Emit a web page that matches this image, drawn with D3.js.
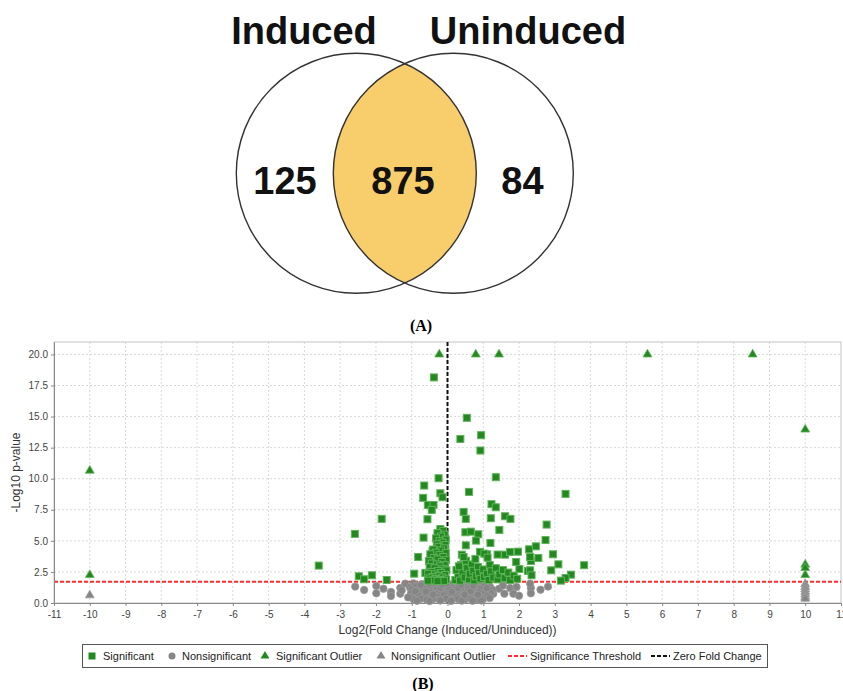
<!DOCTYPE html>
<html><head><meta charset="utf-8">
<script src="https://cdn.jsdelivr.net/npm/d3@7"></script>
<style>html,body{margin:0;padding:0;background:#fff;}svg{display:block;}</style>
</head><body>
<svg id="c" width="843" height="691"></svg>
<script>
// ---------- Data ----------
const vennSets = ["Induced", "Uninduced"];
const vennCounts = [125, 875, 84]; // only Induced, shared, only Uninduced

const xTicks = [-11,-10,-9,-8,-7,-6,-5,-4,-3,-2,-1,0,1,2,3,4,5,6,7,8,9,10,11];
const yTicks = [0, 2.5, 5, 7.5, 10, 12.5, 15, 17.5, 20];
const threshold = 1.7;
const zeroFold = 0;

const significant = [
 [-0.38,18.15],[0.54,14.9],[0.94,13.5],[0.36,13.2],[0.92,12.27],[1.35,10.12],[-0.25,10.04],[-0.65,9.45],
 [0.60,8.94],[-0.20,8.83],[-0.14,8.51],[-0.68,8.46],[3.30,8.78],[-0.55,7.89],[-0.39,7.89],[-0.44,7.49],
 [1.23,7.95],[1.35,7.70],[0.45,7.33],[-1.84,6.77],[-0.56,6.74],[0.51,6.77],[1.21,6.82],[1.61,6.98],
 [1.76,6.77],[2.77,6.31],[-2.59,5.56],[-0.15,5.74],[0.50,5.69],[0.65,5.74],[0.86,5.53],[1.45,5.88],
 [-0.67,5.26],[-0.14,5.26],[0.80,5.02],[1.20,4.83],[0.51,4.64],[2.74,5.07],[2.47,4.56],[2.28,4.32],
 [-0.42,4.16],[0.40,3.89],[0.91,4.11],[1.10,3.92],[1.61,3.89],[1.97,4.13],[2.33,3.38],[2.54,3.62],
 [2.95,3.92],[-0.82,3.70],[-3.60,3.01],[3.10,3.11],[2.90,2.63],[2.25,2.58],[2.01,2.74],[3.45,2.28],
 [3.30,2.01],[3.17,1.80],[-2.48,2.15],[-2.33,1.91],[-2.11,2.23],[-1.70,1.85],[-0.93,2.36],[-0.62,2.42],
 [3.82,3.04],[1.75,4.11],[1.03,3.97],[1.12,3.65],[2.31,3.70],[2.31,2.63],[2.35,2.23],
 // dense column left of zero
 [-0.20,5.95],[-0.12,5.80],[-0.28,5.62],[-0.08,5.50],[-0.18,5.35],[-0.32,5.20],[-0.05,5.10],[-0.22,4.98],
 [-0.14,4.85],[-0.30,4.72],[-0.06,4.66],[-0.25,4.52],[-0.10,4.40],[-0.40,4.30],[-0.18,4.22],[-0.33,4.05],
 [-0.05,4.02],[-0.48,3.92],[-0.22,3.85],[-0.12,3.70],[-0.38,3.62],[-0.28,3.50],[-0.04,3.45],[-0.52,3.38],
 [-0.16,3.30],[-0.44,3.18],[-0.30,3.10],[-0.08,3.05],[-0.22,2.95],[-0.50,2.88],[-0.36,2.80],[-0.12,2.72],
 [-0.03,2.62],[-0.27,2.58],[-0.45,2.50],[-0.18,2.42],[-0.54,2.35],[-0.35,2.30],[-0.07,2.25],[-0.25,2.18],
 [-0.42,2.10],[-0.14,2.05],[-0.50,1.98],[-0.32,1.94],[-0.04,1.90],[-0.20,1.86],[-0.40,1.82],[-0.10,1.78],
 [-0.28,1.76],[-0.55,1.80],
 // dense mass right of zero
 [0.22,1.85],[0.30,2.20],[0.25,2.65],[0.35,1.80],[0.42,2.45],[0.38,3.05],[0.48,2.05],[0.55,2.80],
 [0.52,3.40],[0.60,1.90],[0.62,2.35],[0.68,3.10],[0.72,2.60],[0.75,1.82],[0.80,2.15],[0.78,3.55],
 [0.85,2.90],[0.88,2.40],[0.92,1.95],[1.00,2.70],[1.02,2.10],[1.10,2.35],
 [1.15,1.85],[1.18,3.05],[1.22,2.55],[1.28,2.05],[1.35,2.80],[1.40,1.90],[1.45,2.30],
 [1.55,2.65],[1.60,2.00],[1.70,2.45],[1.75,1.85],[1.85,2.20],
 [1.92,3.30],[1.95,1.95],[0.45,3.70],[0.32,2.95],[1.40,3.90]
];

const nonsignificant = [
 [-2.58,1.32],[-2.33,1.05],[-1.99,1.37],[-1.99,0.78],[-1.79,1.15],[-1.58,0.89],[-1.58,0.56],[-1.32,1.21],
 [-1.32,0.75],[-1.18,1.56],[-1.28,1.02],[1.75,1.21],[1.84,0.75],[1.93,1.29],[2.00,0.59],[2.33,1.21],
 [2.33,0.78],[2.60,1.07],[2.81,1.32],[1.59,0.75],[1.44,1.15],[1.28,0.75],[2.31,1.56],[1.55,1.40],
 [-0.95,1.58],[-0.72,1.52],[-0.55,1.60],[-0.38,1.50],[-0.22,1.62],[-0.05,1.55],[0.10,1.48],[0.28,1.60],
 [0.45,1.54],[0.62,1.63],[0.80,1.50],[0.98,1.58],[1.15,1.45],
 [-1.05,1.25],[-0.88,1.35],[-0.70,1.28],[-0.52,1.33],[-0.35,1.22],[-0.18,1.38],[0.00,1.30],[0.15,1.24],
 [0.32,1.36],[0.50,1.27],[0.66,1.32],[0.84,1.22],[1.02,1.34],[1.20,1.26],
 [-1.00,1.08],[-0.82,1.00],[-0.65,1.12],[-0.48,1.02],[-0.30,1.10],[-0.12,0.98],[0.06,1.06],[0.22,1.12],
 [0.40,0.99],[0.58,1.09],[0.75,1.02],[0.92,1.12],[1.10,1.00],[1.26,1.05],
 [-1.02,0.78],[-0.85,0.84],[-0.68,0.74],[-0.50,0.86],[-0.33,0.76],[-0.15,0.82],[0.02,0.72],[0.18,0.85],
 [0.36,0.78],[0.54,0.83],[0.70,0.74],[0.88,0.86],[1.05,0.79],[1.22,0.82],
 [-0.98,0.52],[-0.80,0.60],[-0.62,0.50],[-0.45,0.58],[-0.28,0.48],[-0.10,0.62],[0.08,0.54],[0.25,0.50],
 [0.42,0.60],[0.60,0.52],[0.78,0.58],[0.95,0.48],[1.12,0.56],
 [-0.95,0.30],[-0.75,0.35],[-0.58,0.26],[-0.40,0.33],[-0.22,0.28],[-0.05,0.36],[0.12,0.25],[0.30,0.32],
 [0.48,0.27],[0.65,0.34],[0.82,0.28],[1.00,0.32],
 [-0.85,0.18],[-0.50,0.16],[-0.20,0.20],[0.10,0.17],[0.40,0.19],[0.70,0.18],[0.95,0.20],
 [-0.90,0.95],[-0.60,0.92],[-0.40,0.68],[-0.20,1.20],[0.12,0.90],[0.30,1.20],[0.48,0.66],[0.65,0.95],
 [0.85,0.66],[1.10,1.20],[-0.75,1.45],[-0.15,1.48],[0.38,1.45],[0.72,1.40],[-1.10,0.45],[1.18,0.40]
];

const sigOutliers = [
 [-0.23,20],[0.79,20],[1.44,20],[5.59,20],[8.53,20],
 [-10,10.65],[-10,2.25],[10,13.96],[10,3.09],[10,2.82],[10,2.25]
];
const nonsigOutliers = [
 [-10,0.62],[10,1.52],[10,1.30],[10,1.10],[10,0.90],[10,0.70],[10,0.50],[10,0.35]
];

const legendItems = ["Significant","Nonsignificant","Significant Outlier","Nonsignificant Outlier","Significance Threshold","Zero Fold Change"];

// ---------- Drawing ----------
const svg = d3.select("#c");
const sansFont = "'Liberation Sans', Arial, sans-serif";
const serifFont = "'Liberation Serif', 'DejaVu Serif', serif";

// ===== Panel A: Venn =====
const r = 120, cy = 173.3;
const cxL = 356.3, cxR = 453.3;
const defs = svg.append("defs");
defs.append("clipPath").attr("id","clipL").append("circle").attr("cx",cxL).attr("cy",cy).attr("r",r);
svg.append("circle").attr("cx",cxR).attr("cy",cy).attr("r",r)
  .attr("clip-path","url(#clipL)").attr("fill","#f8cd6b");
[cxL,cxR].forEach(cx=>{
  svg.append("circle").attr("cx",cx).attr("cy",cy).attr("r",r)
    .attr("fill","none").attr("stroke","#333").attr("stroke-width",1.4);
});
svg.append("text").attr("x",304).attr("y",43.5).attr("text-anchor","middle")
  .attr("font-family",sansFont).attr("font-weight","bold").attr("font-size",38).attr("fill","#111").text(vennSets[0]);
svg.append("text").attr("x",528).attr("y",43.5).attr("text-anchor","middle")
  .attr("font-family",sansFont).attr("font-weight","bold").attr("font-size",38).attr("fill","#111").text(vennSets[1]);
const numX = [285, 403, 522.5];
vennCounts.forEach((v,i)=>{
  svg.append("text").attr("x",numX[i]).attr("y",193.5).attr("text-anchor","middle")
    .attr("font-family",sansFont).attr("font-weight","bold").attr("font-size",38).attr("fill","#111").text(v);
});
svg.append("text").attr("x",421).attr("y",331).attr("text-anchor","middle")
  .attr("font-family",serifFont).attr("font-weight","bold").attr("font-size",16).attr("fill","#000").text("(A)");

// ===== Panel B: Volcano =====
const L = 54, R = 841, T = 342, B = 603;
const x = d3.scaleLinear().domain([-11,11]).range([L,R]);
const y = d3.scaleLinear().domain([0,21]).range([B,T]);

// gridlines
const g = svg.append("g");
g.selectAll("line.vg").data(xTicks.filter(d=>d>-11&&d<11)).enter().append("line")
  .attr("x1",d=>x(d)).attr("x2",d=>x(d)).attr("y1",T).attr("y2",B)
  .attr("stroke","#d9d9d9").attr("stroke-width",1).attr("stroke-dasharray","2,2");
g.selectAll("line.hg").data(yTicks.filter(d=>d>0)).enter().append("line")
  .attr("x1",L).attr("x2",R).attr("y1",d=>y(d)).attr("y2",d=>y(d))
  .attr("stroke","#d9d9d9").attr("stroke-width",1).attr("stroke-dasharray","2,2");

// border
svg.append("rect").attr("x",L).attr("y",T).attr("width",R-L).attr("height",B-T)
  .attr("fill","none").attr("stroke","#c4c4c4").attr("stroke-width",1);

// reference lines
svg.append("line").attr("x1",L).attr("x2",R).attr("y1",y(threshold)).attr("y2",y(threshold))
  .attr("stroke","#ff2a2a").attr("stroke-width",2).attr("stroke-dasharray","4,2");
svg.append("line").attr("x1",x(zeroFold)).attr("x2",x(zeroFold)).attr("y1",T).attr("y2",B)
  .attr("stroke","#111").attr("stroke-width",2).attr("stroke-dasharray","4,2");

// axes
const xAxis = svg.append("g").attr("transform",`translate(0,${B})`)
  .call(d3.axisBottom(x).tickValues(xTicks).tickFormat(d=>String(d)).tickSize(3).tickSizeOuter(0));
const yAxis = svg.append("g").attr("transform",`translate(${L},0)`)
  .call(d3.axisLeft(y).tickValues(yTicks).tickFormat(d=>d.toFixed(1)).tickSize(3).tickSizeOuter(0));
[xAxis,yAxis].forEach(a=>{
  a.selectAll("text").attr("font-family",sansFont).attr("font-size",10).attr("fill","#444");
  a.selectAll("line").attr("stroke","#888");
  a.select(".domain").attr("stroke","#888");
});
xAxis.selectAll("text").attr("dy","0.9em");

svg.append("text").attr("x",(L+R)/2).attr("y",634).attr("text-anchor","middle")
  .attr("font-family",sansFont).attr("font-size",12).attr("fill","#333")
  .text("Log2(Fold Change (Induced/Uninduced))");
svg.append("text").attr("transform",`translate(20,${(T+B)/2}) rotate(-90)`).attr("text-anchor","middle")
  .attr("font-family",sansFont).attr("font-size",12).attr("fill","#333").text("-Log10 p-value");

// points
const plot = svg.append("g");
plot.selectAll("circle.ns").data(nonsignificant).enter().append("circle")
  .attr("cx",d=>x(d[0])).attr("cy",d=>y(d[1])).attr("r",3.7)
  .attr("fill","#858585").attr("stroke","#9a9a9a").attr("stroke-width",0.8);
const sq = 7;
plot.selectAll("rect.s").data(significant).enter().append("rect")
  .attr("x",d=>x(d[0])-sq/2).attr("y",d=>y(d[1])-sq/2).attr("width",sq).attr("height",sq)
  .attr("fill","#22881f").attr("stroke","#5fb35a").attr("stroke-width",1);
const tri = d3.symbol().type(d3.symbolTriangle).size(34);
plot.selectAll("path.no").data(nonsigOutliers).enter().append("path")
  .attr("d",tri).attr("transform",d=>`translate(${x(d[0])},${y(d[1])})`)
  .attr("fill","#858585").attr("stroke","#a0a0a0").attr("stroke-width",0.8);
plot.selectAll("path.so").data(sigOutliers).enter().append("path")
  .attr("d",tri).attr("transform",d=>`translate(${x(d[0])},${y(d[1])})`)
  .attr("fill","#22881f").attr("stroke","#5fb35a").attr("stroke-width",0.8);

// legend
const lg = svg.append("g");
lg.append("rect").attr("x",82.5).attr("y",644.5).attr("width",685).attr("height",23)
  .attr("fill","#fff").attr("stroke","#555").attr("stroke-width",1);
const ly = 656;
const markX = [92, 172, 265, 381, 508, 651];
const textX = [103, 182, 276, 391, 530, 673];
lg.append("rect").attr("x",markX[0]-3.5).attr("y",ly-3.5).attr("width",7).attr("height",7).attr("fill","#22881f");
lg.append("circle").attr("cx",markX[1]).attr("cy",ly).attr("r",3.5).attr("fill","#858585");
lg.append("path").attr("d",tri).attr("transform",`translate(${markX[2]},${ly})`).attr("fill","#22881f");
lg.append("path").attr("d",tri).attr("transform",`translate(${markX[3]},${ly})`).attr("fill","#858585");
lg.append("line").attr("x1",markX[4]).attr("x2",markX[4]+19).attr("y1",ly).attr("y2",ly)
  .attr("stroke","#ff2a2a").attr("stroke-width",2).attr("stroke-dasharray","4,2");
lg.append("line").attr("x1",markX[5]).attr("x2",markX[5]+19).attr("y1",ly).attr("y2",ly)
  .attr("stroke","#111").attr("stroke-width",2).attr("stroke-dasharray","4,2");
legendItems.forEach((t,i)=>{
  lg.append("text").attr("x",textX[i]).attr("y",ly+4).attr("font-family",sansFont)
    .attr("font-size",11).attr("fill","#222").text(t);
});

svg.append("text").attr("x",423).attr("y",689).attr("text-anchor","middle")
  .attr("font-family",serifFont).attr("font-weight","bold").attr("font-size",16).attr("fill","#000").text("(B)");
</script>
</body></html>
